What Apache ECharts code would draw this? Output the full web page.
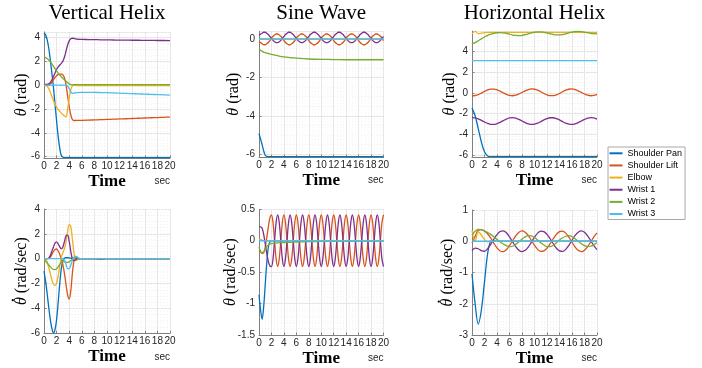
<!DOCTYPE html>
<html><head><meta charset="utf-8">
<script src="https://cdn.jsdelivr.net/npm/echarts@6/dist/echarts.min.js"></script>
<style>html,body{margin:0;padding:0;background:#fff}#c{width:702px;height:368px}</style>
</head><body><div id="c"></div>
<script>
const jointNames = ['Shoulder Pan','Shoulder Lift','Elbow','Wrist 1','Wrist 2','Wrist 3'];
const jointColors = ['#0072BD','#D95319','#EDB120','#7E2F8E','#77AC30','#4DBEEE'];
const panelTitles = ['Vertical Helix','Sine Wave','Horizontal Helix'];
const xTicks = [0,2,4,6,8,10,12,14,16,18,20];
const yTicksTopLeft = [-6,-4,-2,0,2,4];
const yTicksTopMid = [-6,-4,-2,0];
const yTicksTopRight = [-6,-4,-2,0,2,4];
const yTicksBotLeft = [-6,-4,-2,0,2,4];
const yTicksBotMid = [-1.5,-1,-0.5,0,0.5];
const yTicksBotRight = [-3,-2,-1,0,1];

// ---------- Vertical Helix ----------
const vT = [0,0.25,0.5,0.75,1,1.25,1.5,1.75,2,2.25,2.5,2.75,3,3.25,3.5,3.75,4,4.25,4.5,4.75,5,5.25,5.5,5.75,6,7,8,9,10,11,12,13,14,15,16,17,18,19,20];
const vPosPan = [4.35,4.2,3.8,3.1,2.1,1.0,-0.2,-1.6,-3.0,-4.3,-5.3,-5.9,-6.05,-6.07,-6.07,-6.07,-6.07,-6.07,-6.07,-6.07,-6.07,-6.07,-6.07,-6.07,-6.07,-6.07,-6.07,-6.07,-6.07,-6.07,-6.07,-6.07,-6.07,-6.07,-6.07,-6.07,-6.07,-6.07,-6.07];
const vPosLift = [-0.03,-0.03,-0.03,0.0,0.08,0.25,0.45,0.63,0.78,0.87,0.92,0.92,0.85,0.6,0.0,-0.9,-1.8,-2.5,-2.88,-2.97,-2.97,-2.96,-2.96,-2.95,-2.95,-2.94,-2.92,-2.9,-2.88,-2.86,-2.84,-2.82,-2.8,-2.78,-2.76,-2.74,-2.72,-2.7,-2.68];
const vPosElbow = [-0.03,-0.05,-0.1,-0.3,-0.6,-0.95,-1.3,-1.6,-1.85,-2.05,-2.2,-2.35,-2.48,-2.6,-2.68,-2.0,-1.1,-0.4,-0.08,-0.02,-0.03,-0.04,-0.04,-0.04,-0.04,-0.04,-0.04,-0.04,-0.04,-0.05,-0.05,-0.05,-0.05,-0.05,-0.05,-0.05,-0.05,-0.05,-0.05];
const vPosW1 = [0.05,0.05,0.06,0.1,0.22,0.42,0.7,1.0,1.3,1.52,1.68,1.82,2.0,2.35,2.85,3.35,3.7,3.87,3.92,3.9,3.86,3.84,3.83,3.82,3.82,3.81,3.8,3.79,3.78,3.77,3.76,3.76,3.75,3.75,3.74,3.74,3.73,3.73,3.72];
const vPosW2 = [2.35,2.3,2.22,2.1,1.95,1.78,1.58,1.38,1.18,1.0,0.84,0.7,0.56,0.44,0.32,0.2,0.1,0.04,0.02,0.03,0.04,0.04,0.04,0.04,0.04,0.04,0.04,0.04,0.04,0.04,0.04,0.04,0.04,0.04,0.04,0.04,0.04,0.04,0.04];
const vPosW3 = [0,0,0,0,0,0,0,0,0,0,0,0,0,0,0,-0.1,-0.3,-0.58,-0.7,-0.68,-0.65,-0.64,-0.63,-0.62,-0.62,-0.62,-0.62,-0.63,-0.64,-0.66,-0.68,-0.7,-0.72,-0.74,-0.76,-0.78,-0.8,-0.82,-0.84];
const vVelPan = [-1.0,-1.8,-2.8,-3.9,-4.9,-5.6,-5.97,-5.7,-4.9,-3.5,-2.0,-0.8,-0.15,0.05,0.08,0.08,0.06,0.04,0.02,0,0,0,0,0,0,0,0,0,0,0,0,0,0,0,0,0,0,0,0];
const vVelLift = [0,0,0,0.02,0.12,0.35,0.58,0.75,0.78,0.62,0.35,-0.05,-0.5,-1.2,-2.1,-2.9,-3.25,-2.6,-1.2,-0.2,0.1,0.05,0,0,0,0,0,0,0,0,0,0,0,0,0,0,0,0,0];
const vVelElbow = [0,-0.05,-0.25,-0.7,-1.2,-1.7,-2.05,-2.15,-1.95,-1.4,-0.6,0.1,0.5,0.8,1.4,2.2,2.75,2.6,1.6,0.5,-0.15,-0.1,0,0,0,0,0,0,0,0,0,0,0,0,0,0,0,0,0];
const vVelW1 = [0,0,0,0.05,0.25,0.6,0.95,1.25,1.35,1.2,0.95,0.8,0.95,1.4,1.85,1.9,1.4,0.6,0.0,-0.15,-0.1,0,0,0,0,0,0,-0.03,0,0,0,0,0,0,0,0,0,0,0];
const vVelW2 = [-0.1,-0.2,-0.35,-0.5,-0.65,-0.78,-0.85,-0.87,-0.8,-0.65,-0.45,-0.3,-0.2,-0.25,-0.3,-0.3,-0.25,-0.15,-0.05,0.05,0.15,0.1,0.02,0,0,0,0,0,0,0,0,0,0,0,0,0,0,0,0];
const vVelW3 = [0,0,0,0,0,0,0,0,0,0,0,0,0,-0.1,-0.45,-0.8,-0.8,-0.5,-0.15,0.1,0.2,0.15,0.05,0,0,0,0,0,0,0,0,0,0,0,0,0,0,0,0];

// ---------- Sine Wave ----------
const sT = [0,0.25,0.5,0.75,1,1.25,1.5,1.75,2,2.25,2.5,2.75,3,3.25,3.5,3.75,4,4.25,4.5,4.75,5,5.25,5.5,5.75,6,6.25,6.5,6.75,7,7.25,7.5,7.75,8,8.25,8.5,8.75,9,9.25,9.5,9.75,10,10.25,10.5,10.75,11,11.25,11.5,11.75,12,12.25,12.5,12.75,13,13.25,13.5,13.75,14,14.25,14.5,14.75,15,15.25,15.5,15.75,16,16.25,16.5,16.75,17,17.25,17.5,17.75,18,18.25,18.5,18.75,19,19.25,19.5,19.75,20];
const sPT = [0,0.25,0.5,0.75,1,1.25,1.5,2,3,4,5,6,8,10,12,14,16,18,20];
const sVT = [0,0.25,0.5,0.75,1,1.25,1.5,1.75,2,2.5,3,4,5,6,8,10,12,14,16,18,20];
const sPosPan = [-4.92,-5.2,-5.5,-5.82,-6.05,-6.11,-6.12,-6.12,-6.12,-6.12,-6.12,-6.12,-6.12,-6.12,-6.12,-6.12,-6.12,-6.12,-6.12];
const sPosLift = [-0.14,-0.18,-0.25,-0.3,-0.3,-0.25,-0.18,-0.08,0.04,0.14,0.21,0.26,0.26,0.21,0.14,0.04,
 -0.08,-0.18,-0.25,-0.3,-0.3,-0.25,-0.18,-0.08,0.04,0.14,0.21,0.26,0.26,0.21,0.14,0.04,
 -0.08,-0.18,-0.25,-0.3,-0.3,-0.25,-0.18,-0.08,0.04,0.14,0.21,0.26,0.26,0.21,0.14,0.04,
 -0.08,-0.18,-0.25,-0.3,-0.3,-0.25,-0.18,-0.08,0.04,0.14,0.21,0.26,0.26,0.21,0.14,0.04,
 -0.08,-0.18,-0.25,-0.3,-0.3,-0.25,-0.18,-0.08,0.04,0.14,0.21,0.26,0.26,0.21,0.14,0.04,-0.08];
const sPosElbow = [0,0,0,0,0,0,0,0,0,0,0,0,0,0,0,0,0,0,0];
const sPosW1 = [0.19,0.25,0.3,0.35,0.35,0.3,0.23,0.13,0.03,-0.07,-0.14,-0.19,-0.19,-0.14,-0.07,0.03,
 0.13,0.23,0.3,0.35,0.35,0.3,0.23,0.13,0.03,-0.07,-0.14,-0.19,-0.19,-0.14,-0.07,0.03,
 0.13,0.23,0.3,0.35,0.35,0.3,0.23,0.13,0.03,-0.07,-0.14,-0.19,-0.19,-0.14,-0.07,0.03,
 0.13,0.23,0.3,0.35,0.35,0.3,0.23,0.13,0.03,-0.07,-0.14,-0.19,-0.19,-0.14,-0.07,0.03,
 0.13,0.23,0.3,0.35,0.35,0.3,0.23,0.13,0.03,-0.07,-0.14,-0.19,-0.19,-0.14,-0.07,0.03,0.13];
const sPosW2 = [-0.5,-0.58,-0.64,-0.68,-0.71,-0.74,-0.76,-0.8,-0.87,-0.93,-0.97,-1.0,-1.04,-1.06,-1.07,-1.08,-1.08,-1.08,-1.08];
const sPosW3 = [0,0,0,0,0,0,0,0,0,0,0,0,0,0,0,0,0,0,0];
const sVelPan = [-0.86,-1.1,-1.25,-1.05,-0.7,-0.35,-0.1,-0.02,0,0,0,0,0,0,0,0,0,0,0,0,0];
const sVelLift = [-0.15,-0.18,-0.2,-0.19,-0.1,0.05,0.22,0.36,0.41,
 0.29,0,-0.29,-0.41,-0.29,0,0.29,0.41, 0.29,0,-0.29,-0.41,-0.29,0,0.29,0.41,
 0.29,0,-0.29,-0.41,-0.29,0,0.29,0.41, 0.29,0,-0.29,-0.41,-0.29,0,0.29,0.41,
 0.29,0,-0.29,-0.41,-0.29,0,0.29,0.41, 0.29,0,-0.29,-0.41,-0.29,0,0.29,0.41,
 0.29,0,-0.29,-0.41,-0.29,0,0.29,0.41, 0.29,0,-0.29,-0.41,-0.29,0,0.29,0.41,
 0.29,0,-0.29,-0.41,-0.29,0,0.29,0.41];
const sVelElbow = [0.02,0.02,0.01,0,0,0,0,0,0,0,0,0,0,0,0,0,0,0,0,0,0];
const sVelW1 = [0.22,0.22,0.2,0.1,-0.05,-0.2,-0.33,-0.4,-0.41,
 -0.29,0,0.29,0.41,0.29,0,-0.29,-0.41, -0.29,0,0.29,0.41,0.29,0,-0.29,-0.41,
 -0.29,0,0.29,0.41,0.29,0,-0.29,-0.41, -0.29,0,0.29,0.41,0.29,0,-0.29,-0.41,
 -0.29,0,0.29,0.41,0.29,0,-0.29,-0.41, -0.29,0,0.29,0.41,0.29,0,-0.29,-0.41,
 -0.29,0,0.29,0.41,0.29,0,-0.29,-0.41, -0.29,0,0.29,0.41,0.29,0,-0.29,-0.41,
 -0.29,0,0.29,0.41,0.29,0,-0.29,-0.41];
const sVelW2 = [-0.1,-0.17,-0.19,-0.18,-0.13,-0.09,-0.07,-0.05,-0.045,-0.04,-0.035,-0.03,-0.025,-0.02,-0.015,-0.01,-0.008,-0.005,0,0,0];
const sVelW3 = [0,0,0,0,0,0,0,0,0,0,0,0,0,0,0,0,0,0,0,0,0];

// ---------- Horizontal Helix ----------
const hT = [0,0.5,1,1.5,2,2.5,3,3.5,4,4.5,5,5.5,6,6.5,7,7.5,8,8.5,9,9.5,10,10.5,11,11.5,12,12.5,13,13.5,14,14.5,15,15.5,16,16.5,17,17.5,18,18.5,19,19.5,20];
const hShortT = [0,0.5,1,1.5,2,2.5,3,3.5,4,6,10,14,20];
const hFlatT = [0,20];
const hPosPan = [-1.45,-2.2,-3.45,-4.75,-5.7,-6.1,-6.17,-6.17,-6.17,-6.17,-6.17,-6.17,-6.17];
const hPosLift = [-0.27,-0.25,-0.16,-0.01,0.15,0.29,0.38,0.38,0.31,0.18,0.02,-0.13,-0.24,-0.27,-0.22,-0.1,0.05,0.21,0.33,0.39,0.36,0.27,0.12,-0.05,-0.18,-0.26,-0.26,-0.18,-0.05,0.12,0.27,0.36,0.39,0.33,0.21,0.05,-0.1,-0.22,-0.27,-0.24,-0.13];
const hPosElbow = [5.73,5.97,5.75,5.8,5.84,5.86,5.86,5.86,5.86,5.86,5.86,5.86,5.85];
const hPosW1 = [-2.39,-2.41,-2.5,-2.65,-2.81,-2.95,-3.04,-3.04,-2.97,-2.84,-2.68,-2.53,-2.42,-2.39,-2.44,-2.56,-2.71,-2.87,-2.99,-3.05,-3.02,-2.93,-2.78,-2.61,-2.48,-2.4,-2.4,-2.48,-2.61,-2.78,-2.93,-3.02,-3.05,-2.99,-2.87,-2.71,-2.56,-2.44,-2.39,-2.42,-2.53];
const hPosW2 = [4.75,4.88,5.06,5.24,5.42,5.57,5.69,5.78,5.83,5.85,5.82,5.77,5.69,5.61,5.57,5.56,5.58,5.64,5.72,5.81,5.88,5.92,5.92,5.88,5.81,5.73,5.66,5.62,5.62,5.66,5.73,5.82,5.9,5.95,5.96,5.94,5.9,5.84,5.78,5.74,5.72];
const hPosW3 = [3.14,3.14];
const hVelPan = [-1.05,-2.0,-2.65,-2.2,-1.3,-0.4,0.0,0.02,0,0,0,0,0];
const hVelLift = [-0.05,0.15,0.35,0.37,0.32,0.24,0.1,-0.065,-0.21,-0.31,-0.33,-0.27,-0.14,0.02,0.17,0.285,0.33,0.29,0.185,0.03,-0.13,-0.26,-0.325,-0.31,-0.22,-0.08,0.08,0.22,0.31,0.325,0.26,0.13,-0.03,-0.185,-0.29,-0.33,-0.285,-0.17,-0.02,0.14,0.27];
const hVelElbow = [0.35,0.0,0.3,0.2,0.05,-0.02,0.02,0,0,0,0,0,0];
const hVelW1 = [-0.3,-0.22,-0.24,-0.3,-0.32,-0.24,-0.1,0.065,0.21,0.31,0.33,0.27,0.14,-0.02,-0.17,-0.285,-0.33,-0.29,-0.185,-0.03,0.13,0.26,0.325,0.31,0.22,0.08,-0.08,-0.22,-0.31,-0.325,-0.26,-0.13,0.03,0.185,0.29,0.33,0.285,0.17,0.02,-0.14,-0.27];
const hVelW2 = [0.2,0.32,0.38,0.37,0.33,0.28,0.22,0.14,0.06,-0.02,-0.09,-0.14,-0.17,-0.16,-0.1,-0.02,0.07,0.14,0.18,0.17,0.12,0.04,-0.05,-0.12,-0.17,-0.17,-0.13,-0.05,0.04,0.11,0.16,0.18,0.15,0.08,0.0,-0.08,-0.14,-0.17,-0.16,-0.11,-0.04];
const hVelW3 = [0,0];

function zip(t, v) { return t.map((x, i) => [x, v[i]]); }

const SERIF = 'Liberation Serif';
const SANS = 'Liberation Sans';
const LABEL_SIZE = 16;
const posUnit = ' (rad)';
const velUnit = ' (rad/sec)';

const panels = [
  {rect:[44,31.9,126,126], min:-6.1, max:4.45, split:5, ticks:yTicksTopLeft, minor:4, unit:posUnit, dot:false, gap:22, title:panelTitles[0],
   lines:[[vT,vPosPan],[vT,vPosLift],[vT,vPosElbow],[vT,vPosW1],[vT,vPosW2],[vT,vPosW3]]},
  {rect:[259,31.3,124.5,125.9], min:-6.15, max:0.4, split:3, ticks:yTicksTopMid, minor:4, unit:posUnit, dot:false, gap:25, title:panelTitles[1],
   lines:[[sPT,sPosPan],[sT,sPosLift],[sPT,sPosElbow],[sT,sPosW1],[sPT,sPosW2],[sPT,sPosW3]]},
  {rect:[472,31,125,126], min:-6.2, max:6, split:5, ticks:yTicksTopRight, minor:4, unit:posUnit, dot:false, gap:22, title:panelTitles[2],
   lines:[[hShortT,hPosPan],[hT,hPosLift],[hShortT,hPosElbow],[hT,hPosW1],[hT,hPosW2],[hFlatT,hPosW3]]},
  {rect:[44,209,126,124.3], min:-6, max:4, interval:2, ticks:yTicksBotLeft, minor:4, unit:velUnit, dot:true, gap:22,
   lines:[[vT,vVelPan],[vT,vVelLift],[vT,vVelElbow],[vT,vVelW1],[vT,vVelW2],[vT,vVelW3]]},
  {rect:[259,209.3,124.5,125.7], min:-1.5, max:0.5, interval:0.5, ticks:yTicksBotMid, minor:5, unit:velUnit, dot:false, gap:28,
   lines:[[sVT,sVelPan],[sT,sVelLift],[sVT,sVelElbow],[sT,sVelW1],[sVT,sVelW2],[sVT,sVelW3]]},
  {rect:[472,210,125,125], min:-3, max:1, interval:1, ticks:yTicksBotRight, minor:5, unit:velUnit, dot:true, gap:24,
   lines:[[hShortT,hVelPan],[hT,hVelLift],[hShortT,hVelElbow],[hT,hVelW1],[hT,hVelW2],[hFlatT,hVelW3]]}
];

const mctx = document.createElement('canvas').getContext('2d');
function textW(font, s) { mctx.font = font; return mctx.measureText(s).width; }

const grid = [], xAxis = [], yAxis = [], series = [], graphic = [];
const gridLine = {show:true, lineStyle:{color:'#e6e6e6', width:1}};
const minorLine = {show:true, lineStyle:{color:'#f3f3f3', width:1, type:[1,2]}};
const axisCol = '#808080';
const labelCol = '#262626';

panels.forEach((p, i) => {
  const [l, t, w, h] = p.rect;
  grid.push({left:l, top:t, width:w, height:h, containLabel:false});
  xAxis.push({
    type:'value', gridIndex:i, min:xTicks[0], max:xTicks[xTicks.length-1], interval:xTicks[1]-xTicks[0],
    axisLine:{show:true, onZero:false, lineStyle:{color:axisCol, width:1}},
    axisTick:{show:true, inside:true, length:2.5, lineStyle:{color:axisCol}},
    axisLabel:{show:true, margin:3, color:labelCol, fontFamily:SANS, fontSize:10, hideOverlap:false},
    splitLine:gridLine,
    minorTick:{show:false, splitNumber:4},
    minorSplitLine:minorLine,
    name:'Time', nameLocation:'middle', nameGap:23.5,
    nameTextStyle:{fontFamily:SERIF, fontWeight:'bold', fontSize:17, color:'#000', verticalAlign:'middle'}
  });
  const ya = {
    type:'value', gridIndex:i, min:p.min, max:p.max,
    axisLine:{show:true, lineStyle:{color:axisCol, width:1}},
    axisTick:{show:true, inside:true, length:2.5, lineStyle:{color:axisCol}},
    axisLabel:{show:true, margin:4, color:labelCol, fontFamily:SANS, fontSize:10, hideOverlap:false,
      showMinLabel: p.interval ? true : false, showMaxLabel: p.interval ? true : false,
      formatter: v => { const m = p.ticks.find(k => Math.abs(k - v) < 1e-6); return m === undefined ? '' : String(m); }},
    splitLine:gridLine,
    minorTick:{show:false, splitNumber:p.minor},
    minorSplitLine:minorLine
  };
  if (p.interval) ya.interval = p.interval; else ya.splitNumber = p.split;
  yAxis.push(ya);
  p.lines.forEach((pair, j) => {
    series.push({
      type:'line', name:jointNames[j], xAxisIndex:i, yAxisIndex:i,
      data: zip(pair[0], pair[1]), symbol:'none', showSymbol:false, smooth:0.35,
      lineStyle:{width:1.3, color:jointColors[j]}, itemStyle:{color:jointColors[j]},
      emphasis:{disabled:true}, animation:false
    });
  });
  // y-axis label: rotated group, theta italic + unit, optional dot above theta
  const fTheta = 'italic ' + LABEL_SIZE + 'px "' + SERIF + '"';
  const fUnit = LABEL_SIZE + 'px "' + SERIF + '"';
  const wTheta = textW(fTheta, 'θ');
  const wAll = wTheta + textW(fUnit, p.unit);
  const children = [
    {type:'text', x:-wAll/2, y:0, style:{text:'θ', font:fTheta, fill:'#000', align:'left', verticalAlign:'middle'}},
    {type:'text', x:-wAll/2 + wTheta, y:0, style:{text:p.unit, font:fUnit, fill:'#000', align:'left', verticalAlign:'middle'}}
  ];
  if (p.dot) children.push({type:'circle', shape:{cx:-wAll/2 + wTheta*0.62, cy:-9.2, r:1.15}, style:{fill:'#000'}});
  graphic.push({type:'group', x:l - p.gap, y:t + h/2, rotation:Math.PI/2, children});
  graphic.push({type:'text', x:l+w, y:t+h+23.5, style:{text:'sec', font:'10px "Liberation Sans"', fill:labelCol, align:'right', verticalAlign:'middle'}});
  if (p.title) {
    graphic.push({type:'text', x:l+w/2, y:13.5, style:{text:p.title, font:'21px "Liberation Serif"', fill:'#000', align:'center', verticalAlign:'middle'}});
  }
});

const chart = echarts.init(document.getElementById('c'), null, {renderer:'canvas'});
chart.setOption({
  animation:false,
  backgroundColor:'#fff',
  grid, xAxis, yAxis, series, graphic,
  legend:{
    data:jointNames, orient:'vertical', left:608, top:147,
    icon:'rect', itemWidth:13, itemHeight:2, itemGap:2.14,
    textStyle:{fontFamily:SANS, fontSize:9, color:'#000', lineHeight:10},
    padding:[1.3,3,0.5,1.5], borderColor:'#a8a8a8', borderWidth:1, backgroundColor:'#fff',
    selectedMode:false
  }
});
</script></body></html>
